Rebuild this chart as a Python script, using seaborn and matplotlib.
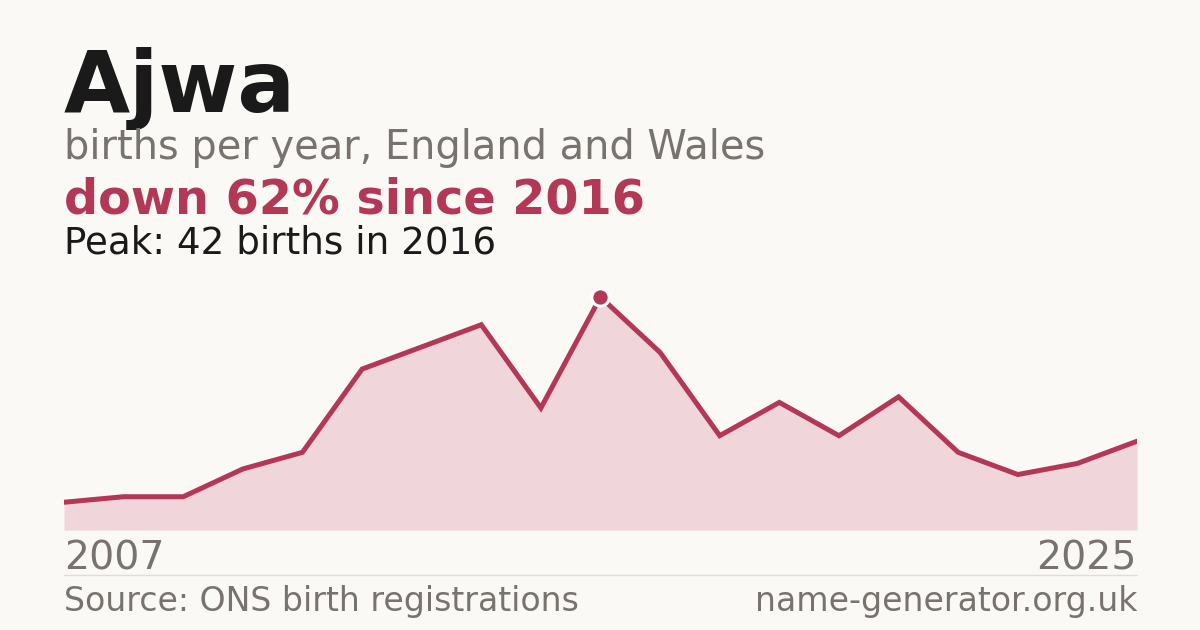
import matplotlib
matplotlib.use("Agg")
import matplotlib.pyplot as plt
import seaborn as sns
import pandas as pd

years = list(range(2007, 2026))
births = [5, 6, 6, 11, 14, 29, 33, 37, 22, 42, 32, 17, 23, 17, 24, 14, 10, 12, 16]
title = "Ajwa"
subtitle = "births per year, England and Wales"
headline = "down 62% since 2016"
peak_text = "Peak: 42 births in 2016"
source_text = "Source: ONS birth registrations"
site_text = "name-generator.org.uk"

BG = "#FAF9F5"
CRIMSON = "#B33855"
FILL = "#F0D5DA"
GRAY = "#78736E"
DARK = "#1A1A1A"

sns.set_theme(style="white")
plt.rcParams["font.family"] = ["DejaVu Sans"]

df = pd.DataFrame({"year": years, "births": births})

W, H = 1200, 630
fig = plt.figure(figsize=(12, 6.3), dpi=100, facecolor=BG)

left, right = 64, 1137
base, top = 530, 280
ax = fig.add_axes([left / W, 1 - base / H, (right - left) / W, (base - top) / H])
ax.set_facecolor("none")

ax.fill_between(df["year"], df["births"], 0, color=FILL, lw=0, zorder=1)
sns.lineplot(data=df, x="year", y="births", ax=ax, color=CRIMSON, lw=3.6,
             zorder=2, solid_joinstyle="miter")

pk = df["births"].idxmax()
ax.plot(df["year"][pk], df["births"][pk], "o", ms=12.5, mfc=CRIMSON,
        mec="white", mew=2.2, zorder=3, clip_on=False)

ax.set_xlim(years[0], years[-1])
ax.set_ylim(0, max(births) * (base - top) / (base - 297))
ax.axis("off")

fig.text(64 / W, 1 - 112 / H, title, fontsize=61.6, fontweight="bold",
         color=DARK, ha="left", va="baseline")
fig.text(64 / W, 1 - 159 / H, subtitle, fontsize=28.7, color=GRAY,
         ha="left", va="baseline")
fig.text(64 / W, 1 - 214 / H, headline, fontsize=34.4, fontweight="bold",
         color=CRIMSON, ha="left", va="baseline")
fig.text(64 / W, 1 - 254 / H, peak_text, fontsize=26.8, color=DARK,
         ha="left", va="baseline")

fig.text(64 / W, 1 - 570 / H, str(years[0]), fontsize=28.4, color=GRAY,
         ha="left", va="baseline")
fig.text(1137 / W, 1 - 570 / H, str(years[-1]), fontsize=28.4, color=GRAY,
         ha="right", va="baseline")

fig.add_artist(plt.Line2D([64 / W, 1137 / W], [1 - 575 / H, 1 - 575 / H],
                          color="#E0DDD8", lw=1))

fig.text(64 / W, 1 - 611 / H, source_text, fontsize=23.9, color=GRAY,
         ha="left", va="baseline")
fig.text(1137 / W, 1 - 611 / H, site_text, fontsize=23.9, color=GRAY,
         ha="right", va="baseline")

fig.savefig("out.png", dpi=100, facecolor=BG)
